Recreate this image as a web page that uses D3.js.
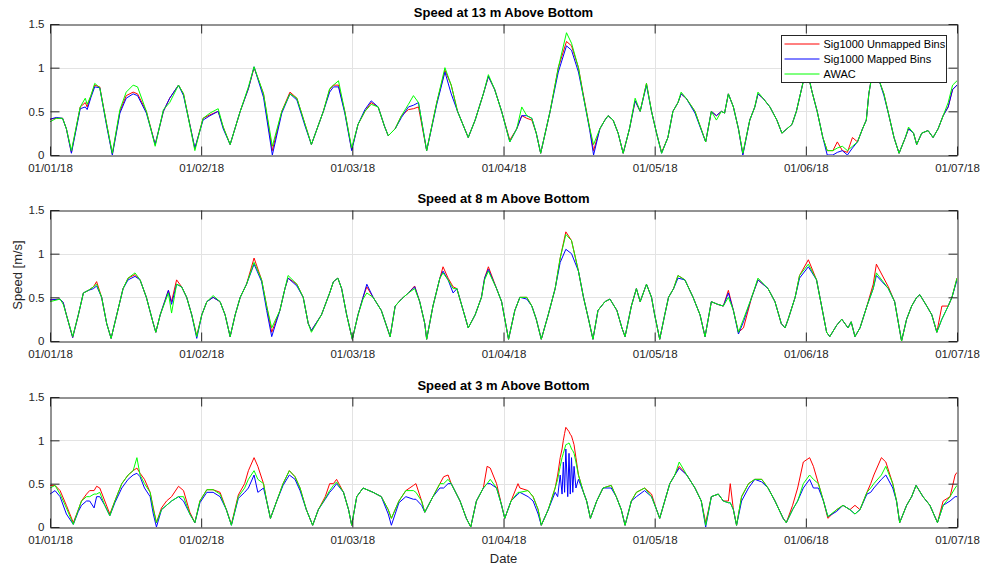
<!DOCTYPE html>
<html>
<head>
<meta charset="utf-8">
<script src="https://cdn.jsdelivr.net/npm/d3@7"></script>
<style>
  body { margin: 0; background: #fff; }
  svg { display: block; font-family: "Liberation Sans", Arial, Helvetica, sans-serif; }
</style>
</head>
<body>
<svg id="chart" width="981" height="567"></svg>
<script>
// hours since 01/01/18 00:00 at peaks, troughs and shoulders
const hours13 = [
  0, 1, 2, 2.6, 3.4, 4.8, 5.6, 5.9, 6.5, 7.1,
  7.9, 9.0, 9.9, 11.1, 12.1, 13.2, 13.9, 15.3, 16.7, 18.0,
  19.0, 20.4, 21.2, 23.0, 24.3, 25.4, 26.7, 27.5, 28.6, 30.2,
  31.5, 32.4, 33.9, 35.3, 36.8, 38.1, 39.2, 40.5, 41.5, 43.4,
  44.4, 45.0, 45.8, 46.8, 47.9, 48.9, 50.0, 51.0, 52.1, 53.1,
  53.7, 54.8, 55.8, 56.9, 57.7, 58.5, 59.8, 61.4, 62.7, 63.7,
  64.7, 66.4, 67.5, 68.8, 69.6, 70.6, 71.7, 73.0, 74.1, 74.9,
  75.7, 76.5, 77.2, 77.9, 79.4, 80.7, 82.0, 82.8, 83.9, 84.6,
  85.7, 86.3, 87.3, 88.1, 88.6, 89.4, 90.2, 91.0, 92.0, 92.9,
  93.7, 94.7, 95.5, 96.3, 97.1, 98.1, 98.9, 99.7, 100.2, 101.0,
  102.4, 104.1, 105.0, 105.8, 106.6, 107.1, 107.7, 108.5, 109.3, 110.0,
  111.1, 111.9, 112.4, 113.2, 114.3, 115.4, 116.2, 117.0, 117.8, 118.5,
  119.3, 120.1, 121.0, 121.8, 122.7, 123.4, 124.3, 125.0, 125.8, 126.6,
  127.4, 128.2, 129.0, 129.6, 130.0, 130.7, 131.2, 131.7, 132.4, 133.2,
  134.0, 134.8, 135.8, 136.3, 137.1, 137.6, 138.4, 139.4, 140.2, 141.0,
  141.8, 142.6, 143.3, 144
]
const awac13 = [
  .38, .42, .42, .3, .05, .55, .65, .58, .68, .82,
  .77, .35, .02, .52, .72, .8, .78, .5, .1, .52,
  .6, .8, .7, .05, .42, .48, .53, .32, .12, .5,
  .78, 1.01, .7, .1, .5, .7, .65, .35, .12, .5,
  .76, .8, .85, .5, .08, .35, .5, .58, .55, .33,
  .22, .3, .45, .58, .68, .6, .05, .6, 1.0, .8,
  .5, .2, .4, .7, .92, .75, .5, .15, .3, .55,
  .45, .42, .25, .02, .5, 1.0, 1.4, 1.28, 1.0, .7,
  .3, .12, .3, .4, .45, .4, .25, .02, .3, .65,
  .5, .82, .5, .25, .02, .2, .5, .6, .72, .65,
  .5, .15, .5, .4, .5, .48, .7, .55, .3, .02,
  .4, .55, .72, .65, .55, .4, .25, .3, .35, .5,
  .75, 1.0, .72, .5, .2, .05, .05, .08, .1, .05,
  .1, .15, .3, .4, .7, 1.0, 1.0, .84, .7, .45,
  .2, .02, .2, .32, .25, .12, .25, .28, .2, .3,
  .45, .6, .8, .85
]
const unmapped13 = [
  .41, .42, .42, .3, .03, .55, .6, .55, .68, .8,
  .78, .35, .01, .5, .68, .72, .7, .5, .12, .5,
  .65, .8, .7, .07, .42, .46, .5, .32, .12, .5,
  .76, 1.0, .7, .05, .5, .72, .65, .35, .12, .5,
  .75, .8, .8, .5, .06, .35, .5, .6, .55, .33,
  .22, .3, .45, .52, .53, .55, .05, .6, .97, .8,
  .5, .2, .4, .7, .9, .75, .5, .17, .3, .45,
  .42, .4, .25, .02, .5, 1.0, 1.3, 1.25, 1.0, .72,
  .3, .05, .3, .4, .45, .4, .25, .02, .3, .62,
  .5, .82, .5, .25, .03, .2, .5, .6, .7, .65,
  .5, .15, .5, .45, .5, .48, .7, .55, .3, .01,
  .4, .55, .7, .65, .55, .4, .25, .3, .35, .5,
  .75, 1.0, .72, .5, .2, .05, .05, .15, .05, .03,
  .2, .15, .3, .4, .7, 1.0, 1.0, .84, .7, .45,
  .2, .02, .2, .3, .25, .12, .25, .28, .2, .3,
  .45, .55, .75, .8
]
const mapped13 = [
  .41, .43, .42, .3, .02, .53, .55, .52, .66, .78,
  .77, .33, 0, .48, .65, .7, .68, .48, .12, .5,
  .65, .8, .68, .08, .4, .45, .5, .3, .12, .5,
  .76, 1.01, .66, 0, .48, .7, .63, .33, .12, .5,
  .72, .78, .78, .48, .05, .35, .52, .62, .55, .33,
  .22, .3, .43, .55, .57, .6, .05, .58, .95, .7,
  .5, .2, .4, .7, .9, .75, .5, .15, .3, .45,
  .45, .42, .25, .02, .5, .95, 1.25, 1.2, .95, .7,
  .28, 0, .3, .4, .45, .4, .25, .02, .3, .62,
  .5, .8, .5, .25, .02, .2, .5, .6, .7, .65,
  .48, .15, .5, .45, .5, .48, .7, .55, .3, 0,
  .4, .55, .7, .65, .55, .4, .25, .3, .35, .5,
  .75, 1.0, .72, .5, .2, 0, 0, .03, .05, 0,
  .08, .15, .3, .4, .7, 1.0, 1.0, .84, .68, .45,
  .2, .02, .2, .3, .25, .12, .25, .28, .2, .3,
  .45, .55, .75, .8
]

const hours8 = [
  0, 1.6, 2.1, 2.6, 3.6, 4.5, 5.3, 6.1, 6.9, 7.4,
  8.2, 9.0, 9.7, 10.6, 11.6, 12.4, 13.5, 14.3, 15.3, 16.4,
  16.8, 17.5, 18.8, 19.3, 20.1, 20.9, 21.7, 22.5, 23.3, 24.1,
  24.9, 25.9, 27.0, 27.8, 28.6, 29.4, 30.2, 31.2, 32.4, 33.6,
  34.4, 35.2, 36.5, 37.3, 37.8, 39.2, 40.2, 41.0, 41.5, 43.1,
  44.4, 45.0, 45.7, 46.3, 47.1, 48.0, 48.9, 49.7, 50.3, 51.3,
  52.6, 54.0, 54.8, 55.8, 56.9, 57.9, 58.7, 59.5, 59.8, 60.8,
  61.9, 62.4, 63.2, 64.0, 64.6, 65.6, 66.4, 67.5, 68.5, 69.0,
  69.6, 70.9, 71.7, 72.8, 73.8, 74.6, 75.7, 76.5, 77.2, 78.0,
  79.1, 80.2, 81.0, 81.9, 82.8, 83.9, 84.7, 85.5, 86.2, 87.0,
  88.1, 88.9, 90.0, 90.8, 91.3, 92.3, 93.1, 93.7, 94.7, 95.5,
  96.0, 96.8, 97.6, 98.2, 99.0, 99.7, 100.8, 102.1, 103.2, 104.0,
  105.0, 106.0, 106.9, 107.7, 108.5, 109.3, 110.1, 111.4, 112.4, 114.0,
  115.1, 116.1, 116.7, 117.2, 118.3, 119.0, 120.4, 121.7, 122.5, 123.3,
  123.8, 124.9, 125.7, 126.7, 127.2, 127.8, 128.6, 129.7, 130.7, 131.2,
  133.1, 134.1, 135.2, 136.0, 136.8, 137.6, 138.1, 139.2, 140.0, 140.8,
  141.6, 142.6, 143.2, 144
]
const awac8 = [
  .45, .48, .42, .3, .05, .3, .55, .58, .62, .65,
  .5, .2, .03, .3, .6, .72, .78, .7, .5, .2,
  .1, .3, .55, .32, .65, .62, .5, .3, .05, .3,
  .45, .52, .45, .3, .05, .3, .5, .65, .9, .7,
  .4, .15, .35, .6, .75, .65, .5, .2, .1, .3,
  .55, .68, .72, .6, .3, .02, .3, .48, .55, .5,
  .35, .05, .4, .48, .55, .6, .45, .2, .02, .4,
  .72, .78, .7, .6, .6, .35, .15, .3, .5, .7,
  .8, .6, .45, .02, .35, .5, .5, .4, .25, .02,
  .3, .6, .95, 1.22, 1.15, .8, .5, .25, .02, .35,
  .45, .48, .35, .15, .05, .4, .6, .45, .65, .5,
  .3, .02, .3, .5, .6, .75, .7, .5, .3, .05,
  .45, .42, .4, .5, .35, .1, .25, .5, .72, .6,
  .45, .2, .15, .25, .5, .75, .88, .7, .4, .1,
  .05, .18, .25, .15, .22, .05, .15, .4, .6, .78,
  .6, .45, 0, .25, .4, .5, .53, .4, .3, .1,
  .25, .4, .5, .72
]
const unmapped8 = [
  .47, .48, .44, .3, .04, .3, .55, .58, .62, .68,
  .5, .2, .03, .3, .6, .72, .76, .7, .5, .2,
  .1, .3, .58, .45, .7, .62, .5, .3, .06, .3,
  .45, .5, .45, .3, .05, .3, .5, .65, .95, .7,
  .4, .1, .35, .6, .72, .65, .5, .2, .12, .3,
  .55, .68, .72, .6, .3, .02, .3, .5, .62, .5,
  .35, .05, .4, .48, .55, .63, .45, .2, .02, .4,
  .72, .85, .72, .62, .6, .35, .15, .3, .5, .72,
  .85, .6, .45, .02, .35, .5, .5, .4, .25, .02,
  .3, .6, .95, 1.25, 1.15, .8, .5, .25, .02, .35,
  .45, .48, .35, .15, .05, .4, .6, .45, .65, .5,
  .3, .02, .3, .5, .6, .75, .7, .5, .3, .05,
  .45, .42, .4, .58, .35, .1, .15, .5, .7, .6,
  .45, .2, .15, .25, .5, .75, .93, .7, .4, .1,
  .05, .18, .25, .15, .22, .05, .15, .4, .65, .88,
  .62, .45, 0, .25, .4, .5, .53, .4, .3, .1,
  .4, .4, .5, .72
]
const mapped8 = [
  .47, .48, .44, .3, .04, .3, .55, .58, .6, .63,
  .5, .2, .03, .3, .6, .7, .74, .7, .5, .2,
  .1, .3, .58, .42, .65, .62, .5, .3, .03, .3,
  .45, .5, .45, .3, .05, .3, .5, .65, .88, .68,
  .35, .05, .35, .6, .72, .63, .5, .2, .12, .3,
  .55, .68, .72, .6, .3, .02, .3, .5, .65, .5,
  .35, .05, .4, .48, .55, .62, .45, .2, .02, .4,
  .72, .8, .7, .55, .6, .35, .15, .3, .5, .72,
  .82, .6, .45, .02, .35, .5, .48, .4, .25, .02,
  .3, .6, .9, 1.05, 1.0, .8, .5, .25, .02, .35,
  .45, .48, .35, .15, .05, .4, .6, .45, .65, .5,
  .3, .02, .3, .5, .6, .72, .7, .5, .3, .05,
  .45, .42, .4, .55, .35, .08, .22, .5, .7, .6,
  .45, .2, .15, .25, .5, .72, .85, .7, .4, .1,
  .05, .18, .25, .15, .22, .05, .15, .4, .6, .75,
  .6, .45, 0, .25, .4, .5, .53, .4, .3, .1,
  .25, .4, .5, .7
]

const hours3 = [
  0, 0.8, 1.6, 2.6, 3.7, 4.5, 5.0, 5.8, 6.3, 7.0,
  7.4, 7.9, 8.7, 9.5, 10.3, 11.4, 12.4, 13.2, 13.8, 14.3,
  15.0, 15.9, 16.4, 16.9, 17.7, 18.5, 19.3, 20.4, 21.2, 22.2,
  23.0, 23.8, 24.9, 25.9, 27.0, 28.0, 28.8, 29.9, 30.9, 31.5,
  32.4, 33.0, 33.9, 34.4, 35.0, 36.0, 37.0, 38.0, 38.9, 39.7,
  40.7, 41.7, 42.6, 43.7, 44.4, 45.0, 45.5, 46.6, 47.4, 47.9,
  48.7, 49.7, 51.3, 52.6, 53.7, 54.2, 55.4, 56.5, 57.7, 58.1,
  59.0, 59.5, 60.8, 61.9, 62.5, 63.2, 63.7, 65.1, 66.1, 66.8,
  67.7, 68.8, 69.4, 69.9, 70.9, 71.7, 72.2, 73.2, 74.3, 74.6,
  75.9, 76.7, 77.5, 78.0, 79.1, 80.2, 80.6, 81.0, 81.3, 81.5,
  81.7, 81.9, 82.2, 82.4, 82.6, 82.8, 83.0, 83.2, 83.5, 83.9,
  84.7, 85.2, 85.8, 86.8, 87.8, 89.1, 89.9,
  90.7, 91.3, 92.3, 93.1, 94.4, 95.5, 96.3, 96.8, 97.6, 98.4,
  99.2, 99.9, 101.1, 102.4, 103.4, 104.1, 105.0, 106.1, 106.9, 107.7,
  108.0, 108.5, 109.0, 109.8, 110.9, 111.9, 113.0, 114.0, 115.1, 116.4,
  116.9, 117.9, 118.7, 119.6, 120.6, 121.2, 122.0, 122.8, 123.5, 124.9,
  125.9, 127.0, 127.8, 128.6, 129.7, 130.3, 130.8, 132.0, 132.7, 133.8,
  134.4, 134.9, 136.0, 136.8, 137.5, 138.6, 139.7, 140.9, 141.8, 142.9,
  143.7, 144
]
const awac3 = [
  .45, .48, .38, .22, .03, .2, .3, .35, .35, .38,
  .38, .4, .25, .13, .3, .5, .6, .65, .8, .6,
  .5, .4, .2, .05, .2, .25, .3, .35, .35, .15,
  .05, .3, .43, .43, .38, .2, .02, .35, .45, .55,
  .65, .55, .5, .3, .1, .3, .5, .65, .58, .45,
  .2, .02, .2, .33, .42, .48, .52, .4, .2, .02,
  .35, .45, .4, .35, .2, .1, .3, .42, .42, .4,
  .3, .17, .35, .5, .5, .55, .5, .3, .1, 0,
  .3, .45, .5, .55, .45, .25, .1, .3, .4, .4,
  .42, .35, .2, .02, .2, .45, .55, .7, .8, .85,
  .9, .95, .96, .97, .94, .9, .88, .85, .75, .6,
  .4, .3, .1, .3, .45, .48, .35,
  .2, .02, .3, .4, .45, .35, .2, .1, .3, .5,
  .6, .75, .6, .45, .3, .02, .35, .38, .3, .28,
  .28, .2, .02, .35, .5, .55, .55, .45, .3, .1,
  .05, .2, .3, .5, .6, .55, .5, .3, .12, .2,
  .25, .2, .15, .2, .4, .45, .5, .6, .7, .5,
  .3, .05, .25, .35, .48, .35, .25, .05, .25, .35,
  .45, .48
]
const unmapped3 = [
  .48, .48, .42, .25, .05, .2, .3, .38, .42, .42,
  .47, .45, .3, .15, .3, .5, .6, .65, .68, .62,
  .55, .4, .22, .05, .22, .3, .35, .47, .42, .17,
  .05, .3, .43, .43, .4, .2, .03, .37, .5, .65,
  .8, .7, .5, .3, .1, .3, .5, .65, .58, .45,
  .2, .02, .2, .35, .5, .5, .55, .4, .2, .02,
  .35, .45, .4, .35, .2, .1, .3, .42, .48, .5,
  .3, .17, .35, .5, .58, .6, .5, .3, .1, 0,
  .3, .45, .7, .68, .5, .25, .1, .3, .5, .45,
  .42, .35, .2, .02, .2, .45, .6, .8, .9, 1.0,
  1.08, 1.15, 1.12, 1.1, 1.07, 1.05, 1.0, .95, .8, .6,
  .4, .3, .1, .3, .45, .48, .35,
  .2, .02, .3, .4, .45, .38, .2, .1, .3, .5,
  .6, .7, .6, .45, .3, .05, .35, .38, .3, .3,
  .5, .2, .02, .35, .5, .55, .55, .45, .3, .1,
  .05, .25, .45, .75, .8, .7, .5, .3, .1, .2,
  .25, .2, .25, .2, .4, .5, .6, .8, .75, .5,
  .3, .05, .25, .35, .48, .35, .25, .05, .3, .35,
  .6, .63
]
const mapped3 = [
  .38, .42, .35, .15, .03, .18, .25, .3, .3, .22,
  .35, .35, .25, .13, .28, .45, .55, .6, .62, .58,
  .45, .35, .15, 0, .2, .25, .3, .35, .3, .15,
  .05, .28, .4, .4, .35, .2, .02, .33, .4, .45,
  .6, .4, .45, .3, .1, .3, .48, .6, .55, .42,
  .2, .02, .2, .32, .4, .45, .5, .4, .2, .02,
  .35, .45, .4, .35, .15, .02, .28, .35, .32, .32,
  .25, .17, .35, .45, .45, .5, .5, .3, .1, 0,
  .3, .45, .5, .5, .45, .25, .1, .3, .38, .4,
  .35, .3, .15, .02, .2, .4, .35, .6, .38, .75,
  .4, .9, .35, .85, .38, .8, .4, .7, .45, .55,
  .4, .3, .1, .3, .45, .45, .35,
  .2, .02, .3, .35, .42, .35, .2, .1, .3, .5,
  .6, .68, .6, .45, .3, 0, .35, .38, .3, .28,
  .28, .2, .02, .3, .45, .55, .52, .45, .3, .1,
  .05, .2, .3, .45, .55, .45, .45, .3, .12, .18,
  .25, .2, .15, .2, .38, .4, .45, .55, .6, .45,
  .3, .05, .25, .35, .48, .35, .25, .05, .25, .3,
  .35, .35
]

const seriesNames = ['Sig1000 Unmapped Bins', 'Sig1000 Mapped Bins', 'AWAC']
const seriesColors = ['#ff0000', '#0000ff', '#00ff00']
const yTicks = [0, 0.5, 1, 1.5]

const panels = [
	{ title: 'Speed at 13 m Above Bottom', top: 24, bottom: 155, hours: hours13, series: [unmapped13, mapped13, awac13], legend: true },
	{ title: 'Speed at 8 m Above Bottom', top: 210, bottom: 341, hours: hours8, series: [unmapped8, mapped8, awac8] },
	{ title: 'Speed at 3 m Above Bottom', top: 397, bottom: 527, hours: hours3, series: [unmapped3, mapped3, awac3], xlabel: 'Date' }
]

const left = 50, right = 957
const axisColor = '#262626'
const t0 = Date.UTC(2018, 0, 1)
const toDate = h => new Date(t0 + h * 3600e3)

const svg = d3.select('#chart')
const x = d3.scaleUtc().domain([toDate(0), toDate(144)]).range([left, right])
const dayTicks = d3.range(0, 145, 24).map(toDate)
const fmt = d3.utcFormat('%m/%d/%y')

panels.forEach((p, pi) => {
	const y = d3.scaleLinear().domain([0, 1.5]).range([p.bottom, p.top])
	const g = svg.append('g')

	// grid
	g.selectAll('.vgrid').data(dayTicks.slice(1, -1)).join('line')
		.attr('x1', d => Math.round(x(d)) + 0.5).attr('x2', d => Math.round(x(d)) + 0.5)
		.attr('y1', p.top).attr('y2', p.bottom)
		.attr('stroke', '#e3e3e3')
	g.selectAll('.hgrid').data(yTicks.slice(1, -1)).join('line')
		.attr('x1', left).attr('x2', right)
		.attr('y1', d => Math.round(y(d)) + 0.5).attr('y2', d => Math.round(y(d)) + 0.5)
		.attr('stroke', '#e3e3e3')

	// data lines
	const clipId = 'clip' + pi
	svg.append('clipPath').attr('id', clipId).append('rect')
		.attr('x', left).attr('y', p.top).attr('width', right - left).attr('height', p.bottom - p.top)
	const line = d3.line().x(d => x(toDate(d[0]))).y(d => y(d[1]))
	p.series.forEach((vals, si) => {
		const pts = p.hours.map((h, i) => [h, vals[i]]).filter(d => d[1] != null)
		g.append('path')
			.attr('clip-path', `url(#${clipId})`)
			.attr('d', line(pts))
			.attr('fill', 'none')
			.attr('stroke', seriesColors[si])
			.attr('stroke-width', 1)
	})

	// axes, ticks pointing inward as in matlab
	const xb = g.append('g').attr('transform', `translate(0,${p.bottom + 0.5})`)
		.call(d3.axisBottom(x).tickValues(dayTicks).tickFormat(fmt).tickSizeInner(-9).tickSizeOuter(0).tickPadding(8))
	const xt = g.append('g').attr('transform', `translate(0,${p.top + 0.5})`)
		.call(d3.axisTop(x).tickValues(dayTicks).tickFormat('').tickSizeInner(-9).tickSizeOuter(0))
	const yl = g.append('g').attr('transform', `translate(${left + 0.5},0)`)
		.call(d3.axisLeft(y).tickValues(yTicks).tickFormat(d => String(d)).tickSizeInner(-9).tickSizeOuter(0).tickPadding(6))
	const yr = g.append('g').attr('transform', `translate(${right + 0.5},0)`)
		.call(d3.axisRight(y).tickValues(yTicks).tickFormat('').tickSizeInner(-9).tickSizeOuter(0))
	;[xb, xt, yl, yr].forEach(a => {
		a.selectAll('path.domain').attr('stroke', axisColor)
		a.selectAll('.tick line').attr('stroke', axisColor)
		a.selectAll('text').attr('fill', axisColor).style('font-size', '11.5px')
			.style('font-family', '"Liberation Sans", Arial, sans-serif')
	})

	// title
	g.append('text')
		.attr('x', (left + right) / 2).attr('y', p.top - 7)
		.attr('text-anchor', 'middle')
		.attr('fill', '#000')
		.style('font-size', '13px').style('font-weight', 'bold')
		.text(p.title)

	if (p.xlabel) {
		g.append('text')
			.attr('x', (left + right) / 2).attr('y', 563)
			.attr('text-anchor', 'middle')
			.attr('fill', axisColor)
			.style('font-size', '13px')
			.text(p.xlabel)
	}

	if (p.legend) {
		const lg = g.append('g').attr('transform', 'translate(781.5,35.5)')
		lg.append('rect').attr('width', 165).attr('height', 47)
			.attr('fill', '#fff').attr('stroke', axisColor)
		seriesNames.forEach((name, i) => {
			const ly = 8.5 + i * 15
			lg.append('line').attr('x1', 3).attr('x2', 38).attr('y1', ly).attr('y2', ly)
				.attr('stroke', seriesColors[i])
			lg.append('text').attr('x', 42).attr('y', ly + 4)
				.attr('fill', '#000')
				.style('font-size', '11px')
				.text(name)
		})
	}
})

// shared y label
svg.append('text')
	.attr('transform', 'translate(22,275) rotate(-90)')
	.attr('text-anchor', 'middle')
	.attr('fill', axisColor)
	.style('font-size', '13px')
	.text('Speed [m/s]')
</script>
</body>
</html>
